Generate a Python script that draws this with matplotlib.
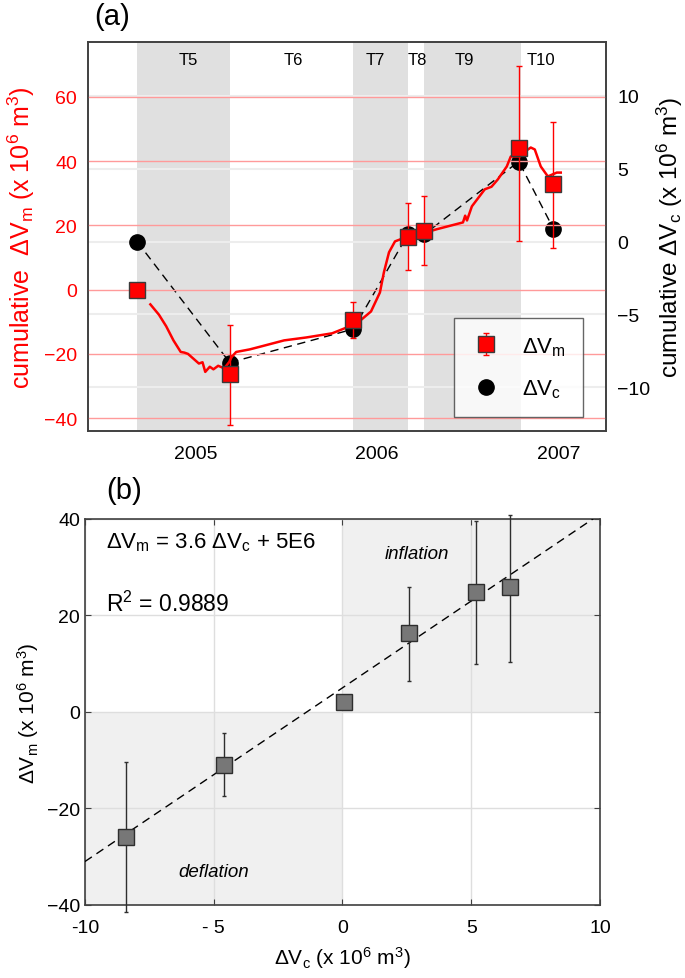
import matplotlib
matplotlib.use("Agg")
import matplotlib.pyplot as plt
import matplotlib.transforms as mtransforms

plt.rcParams['font.family'] = ['Liberation Sans', 'DejaVu Sans']
plt.rcParams['mathtext.fontset'] = 'custom'
plt.rcParams['mathtext.rm'] = 'Liberation Sans'
plt.rcParams['mathtext.it'] = 'Liberation Sans:italic'

# ---- panel (a) data (decimal years) ----
period_names = ["T5", "T6", "T7", "T8", "T9", "T10"]
period_label_x = [2004.96, 2005.54, 2005.99, 2006.22, 2006.48, 2006.90]
shaded_periods = [(2004.68, 2005.19), (2005.87, 2006.17), (2006.26, 2006.79)]

survey_years = [2004.68, 2005.19, 2005.87, 2006.17, 2006.26, 2006.78, 2006.97]
dvm_cum = [0.0, -26.2, -9.5, 16.3, 18.1, 43.9, 32.8]
dvm_low = [0.0, -42.0, -15.0, 6.2, 7.6, 15.1, 13.0]
dvm_high = [0.0, -11.0, -4.0, 26.8, 29.0, 69.6, 52.0]
dvc_cum = [0.0, -8.3, -6.0, 0.5, 0.5, 5.5, 0.9]

cont_years = [2004.753, 2004.80, 2004.84, 2004.88, 2004.92, 2004.94, 2004.96, 2004.99,
              2005.02, 2005.04, 2005.055, 2005.08, 2005.10, 2005.126, 2005.16, 2005.187,
              2005.20, 2005.225, 2005.30, 2005.368, 2005.489, 2005.61, 2005.753, 2005.824,
              2005.896, 2005.967, 2006.016, 2006.038, 2006.066, 2006.099, 2006.159, 2006.269,
              2006.33, 2006.473, 2006.485, 2006.495, 2006.522, 2006.593, 2006.63, 2006.665,
              2006.714, 2006.736, 2006.786, 2006.808, 2006.846, 2006.868, 2006.901, 2006.94,
              2006.989, 2007.011]
cont_dvm = [-4.6, -7.8, -11.4, -15.8, -19.4, -19.6, -20.0, -21.5,
            -23.0, -22.6, -25.6, -24.0, -24.8, -23.7, -24.5, -22.5,
            -21.0, -19.4, -18.6, -17.6, -15.8, -14.9, -13.6, -12.0,
            -10.2, -6.8, -0.9, 5.4, 11.6, 15.0, 16.3, 17.8,
            18.8, 20.9, 23.0, 21.5, 25.9, 31.2, 32.0, 34.3,
            38.3, 41.4, 41.4, 42.7, 44.2, 43.6, 38.3, 35.2,
            36.4, 36.4]

# ---- panel (b) data ----
dvc_period = [-8.4, -4.6, 0.05, 2.6, 5.2, 6.5]
dvm_period = [-26.0, -11.0, 2.1, 16.3, 24.9, 25.8]
dvm_period_low = [-41.5, -17.4, 2.1, 6.4, 10.0, 10.4]
dvm_period_high = [-10.4, -4.4, 2.1, 25.9, 39.6, 40.8]
fit_x = [-10, 10]
fit_slope = 3.6
fit_icpt = 5.0

spine_col = "#404040"

fig = plt.figure(figsize=(6.85, 9.79), dpi=100)

# ================= (a) =================
ax2 = fig.add_axes([0.1285, 0.5587, 0.7562, 0.3973])
ax = ax2.twinx()
# put the left (red) axis on top of the twin
ax2.yaxis.tick_right()
ax2.yaxis.set_label_position("right")
ax.yaxis.tick_left()
ax.yaxis.set_label_position("left")
ax.set_zorder(ax2.get_zorder() + 1)
ax.patch.set_visible(False)

for x0, x1 in shaded_periods:
    ax2.axvspan(x0, x1, color="#e0e0e0", lw=0, zorder=0)
ax2.set_ylim(-13.0, 13.7)
ax2.set_yticks([-10, -5, 0, 5, 10])
ax2.yaxis.grid(True, color="#ededed", lw=1.5, zorder=1)
ax2.set_axisbelow(True)
ax2.plot(survey_years, dvc_cum, color="black", ls=(0, (6, 4)), lw=1, zorder=3)
circ, = ax2.plot(survey_years, dvc_cum, "o", color="black", ms=11, ls="none", zorder=4)
ax2.set_xlim(2004.41, 2007.26)
ax2.set_xticks([2005, 2006, 2007])
ax2.set_xticklabels(["2005", "2006", "2007"])
ax2.tick_params(axis="x", length=0, labelsize=14, pad=10)
ax2.tick_params(axis="y", length=0, labelsize=14, colors="black", pad=8)
ax2.set_ylabel("cumulative ΔV$_\mathrm{c}$ (x 10$^6$ m$^3$)", fontsize=17.5, labelpad=3)

ax.set_ylim(-44, 77)
ax.set_yticks([-40, -20, 0, 20, 40, 60])
for v in [-40, -20, 0, 20, 40, 60]:
    ax.axhline(v, color="#ff9a9a", lw=1, zorder=1)
ax.plot(cont_years, cont_dvm, color="red", lw=1.8, zorder=3)
err_lo = [m - lo for m, lo in zip(dvm_cum, dvm_low)]
err_hi = [hi - m for m, hi in zip(dvm_cum, dvm_high)]
sq = ax.errorbar(survey_years, dvm_cum, yerr=[err_lo, err_hi], fmt="s", color="red",
                 mfc="red", mec="#3a3a3a", mew=1, ms=12, elinewidth=1, ecolor="red",
                 capsize=2, zorder=5)
ax.tick_params(axis="y", length=0, labelsize=14, labelcolor="red", pad=8)
ax.set_ylabel("cumulative  ΔV$_\mathrm{m}$ (x 10$^6$ m$^3$)", fontsize=18, color="red",
              labelpad=5)

trans = mtransforms.blended_transform_factory(ax.transData, ax.transAxes)
for name, xl in zip(period_names, period_label_x):
    ax.text(xl, 0.955, name, transform=trans, ha="center", va="center", fontsize=12)

leg = ax.legend([sq, circ], [r"ΔV$_\mathrm{m}$", r"ΔV$_\mathrm{c}$"], loc="upper left",
                bbox_to_anchor=(0.707, 0.29), fontsize=16, frameon=True, fancybox=False,
                edgecolor="#404040", borderpad=0.75, labelspacing=0.9, handlelength=1.4,
                handletextpad=0.9, borderaxespad=0)
leg.get_frame().set_linewidth(1)

for a in (ax, ax2):
    for s in a.spines.values():
        s.set_color(spine_col)
        s.set_linewidth(1.2)

fig.text(0.137, 0.983, "(a)", fontsize=21, ha="left", va="center")

# ================= (b) =================
bx = fig.add_axes([0.124, 0.0746, 0.752, 0.3943])
bx.fill_between([0, 10], 0, 40, color="#f0f0f0", lw=0, zorder=0)
bx.fill_between([-10, 0], -40, 0, color="#f0f0f0", lw=0, zorder=0)
bx.set_xlim(-10, 10)
bx.set_ylim(-40, 40)
bx.set_xticks([-10, -5, 0, 5, 10])
bx.set_xticklabels(["-10", "- 5", "0", "5", "10"])
bx.set_yticks([-40, -20, 0, 20, 40])
bx.grid(True, color="#dedede", lw=1)
bx.set_axisbelow(True)
fit_y = [fit_slope * v + fit_icpt for v in fit_x]
bx.plot(fit_x, fit_y, color="black", ls=(0, (6, 4)), lw=1, zorder=3)
b_lo = [m - lo for m, lo in zip(dvm_period, dvm_period_low)]
b_hi = [hi - m for m, hi in zip(dvm_period, dvm_period_high)]
bx.errorbar(dvc_period, dvm_period, yerr=[b_lo, b_hi], fmt="s", mfc="#777777",
            mec="#2e2e2e", mew=1, ms=12, ecolor="#2e2e2e", elinewidth=1, capsize=1.5,
            zorder=4, clip_on=False)
bx.tick_params(direction="in", length=4, top=True, right=True, labelsize=14,
               color=spine_col)
bx.tick_params(axis="x", pad=10)
for s in bx.spines.values():
    s.set_color(spine_col)
    s.set_linewidth(1.2)

bx.text(-9.2, 35.2, r"ΔV$_\mathrm{m}$ = 3.6 ΔV$_\mathrm{c}$ + 5E6", fontsize=16,
        ha="left", va="center")
bx.text(-9.2, 22.5, r"R$^2$ = 0.9889", fontsize=16.5, ha="left", va="center")
bx.text(2.9, 32.8, "inflation", fontsize=13.5, style="italic", ha="center", va="center")
bx.text(-5.0, -33.0, "deflation", fontsize=13.5, style="italic", ha="center", va="center")
bx.set_ylabel("ΔV$_\mathrm{m}$ (x 10$^6$ m$^3$)", fontsize=15, labelpad=4)
bx.set_xlabel("ΔV$_\mathrm{c}$ (x 10$^6$ m$^3$)", fontsize=15, labelpad=6)

fig.text(0.155, 0.498, "(b)", fontsize=21, ha="left", va="center")

fig.savefig("out.png", dpi=100)
